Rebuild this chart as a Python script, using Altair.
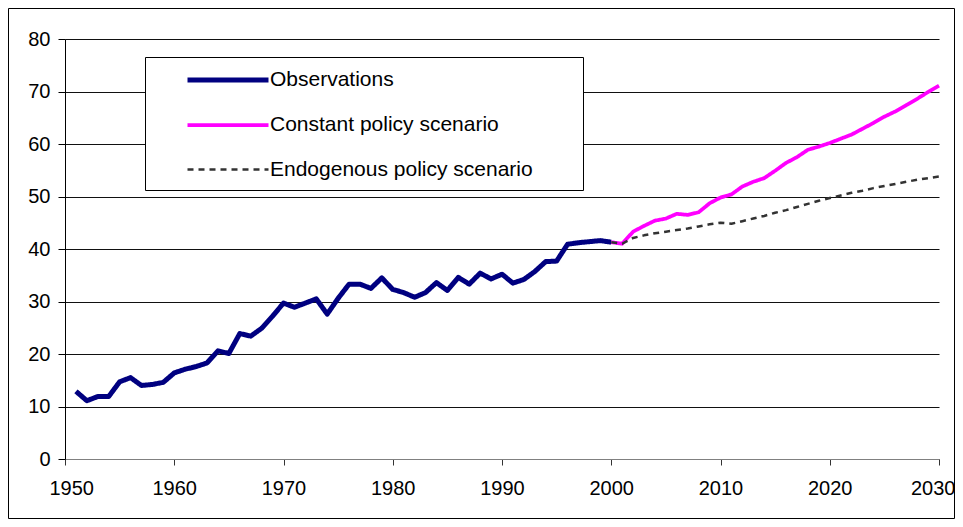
import altair as alt
import pandas as pd

obs_years = list(range(1951, 2001))
obs_values = [12.9, 11.1, 11.9, 11.9, 14.7, 15.5, 14.0, 14.2, 14.6, 16.4,
              17.1, 17.6, 18.3, 20.6, 20.1, 23.9, 23.4, 24.9, 27.2, 29.7,
              28.9, 29.7, 30.5, 27.6, 30.6, 33.3, 33.3, 32.5, 34.5, 32.3,
              31.7, 30.8, 31.7, 33.6, 32.1, 34.6, 33.3, 35.4, 34.3, 35.2,
              33.5, 34.2, 35.7, 37.6, 37.7, 40.9, 41.2, 41.4, 41.6, 41.3]

scen_years = list(range(2000, 2031))
const_values = [41.3, 41.0, 43.3, 44.4, 45.4, 45.8, 46.7, 46.5, 47.0, 48.7,
                49.8, 50.4, 51.9, 52.8, 53.5, 54.9, 56.4, 57.5, 58.9, 59.5,
                60.2, 61.0, 61.8, 62.9, 64.0, 65.2, 66.2, 67.4, 68.6, 69.9, 71.1]
endo_values = [41.3, 41.0, 42.1, 42.6, 43.0, 43.3, 43.6, 43.9, 44.3, 44.7,
               45.0, 44.8, 45.3, 45.8, 46.3, 46.9, 47.4, 48.0, 48.6, 49.2,
               49.7, 50.2, 50.7, 51.1, 51.6, 52.0, 52.4, 52.8, 53.2, 53.5, 53.8]

series_names = ["Observations", "Constant policy scenario", "Endogenous policy scenario"]
x_ticks = [1950, 1960, 1970, 1980, 1990, 2000, 2010, 2020, 2030]
y_ticks = [0, 10, 20, 30, 40, 50, 60, 70, 80]

rows = []
for yr, v in zip(obs_years, obs_values):
    rows.append({"year": yr, "value": v, "series": series_names[0]})
for yr, v in zip(scen_years, const_values):
    rows.append({"year": yr, "value": v, "series": series_names[1]})
for yr, v in zip(scen_years, endo_values):
    rows.append({"year": yr, "value": v, "series": series_names[2]})
df = pd.DataFrame(rows)

W, H = 874, 420
PADL, PADT, PADR, PADB = 57, 31, 16, 60
FONT = "Liberation Sans"

one = pd.DataFrame({"k": [0]})

frame = alt.Chart(one).mark_rect(fillOpacity=0, stroke="black", strokeWidth=1).encode(
    x=alt.value(-PADL + 0.5), x2=alt.value(W + PADR - 0.5),
    y=alt.value(-PADT + 0.5), y2=alt.value(H + PADB - 0.5),
)

legend_box = alt.Chart(one).mark_rect(fill="white", stroke="black", strokeWidth=1).encode(
    x=alt.value(80.5), x2=alt.value(518.5),
    y=alt.value(18.5), y2=alt.value(151.5),
)

lines = alt.Chart(df).mark_line(strokeJoin="round", strokeCap="butt").encode(
    x=alt.X("year:Q",
            scale=alt.Scale(domain=[1950, 2030], nice=False, zero=False),
            axis=alt.Axis(values=x_ticks, format="d", title=None, grid=False,
                          labelFlush=True, labelFlushOffset=16, labelOverlap=False,
                          domainColor="#808080", tickColor="#333333", tickSize=6,
                          labelPadding=13, labelFontSize=20, labelFont=FONT,
                          labelColor="black")),
    y=alt.Y("value:Q",
            scale=alt.Scale(domain=[0, 80], nice=False),
            axis=alt.Axis(values=y_ticks, title=None, grid=True, gridColor="#111111",
                          gridWidth=1, domainColor="black", tickColor="black",
                          labelFlush=False, labelOverlap=False,
                          tickSize=7, labelPadding=8, labelFontSize=20, labelFont=FONT,
                          labelColor="black")),
    color=alt.Color("series:N",
                    scale=alt.Scale(domain=series_names,
                                    range=["#000080", "#FF00FF", "#333333"]),
                    legend=alt.Legend(title=None, orient="none", legendX=150, legendY=28,
                                      symbolType="M-4,0H4", symbolSize=410,
                                      labelFontSize=21, labelFont=FONT, labelColor="black",
                                      labelOffset=29, rowPadding=23, padding=0,
                                      labelLimit=400)),
    strokeDash=alt.StrokeDash("series:N",
                              scale=alt.Scale(domain=series_names,
                                              range=[[1, 0], [1, 0], [6, 5]]),
                              legend=None),
    strokeWidth=alt.StrokeWidth("series:N",
                                scale=alt.Scale(domain=series_names, range=[5, 2.5, 2.5]),
                                legend=None),
)

chart = alt.layer(frame, legend_box, lines).properties(
    width=W, height=H,
    autosize=alt.AutoSizeParams(type="none"),
    padding={"left": PADL, "top": PADT, "right": PADR, "bottom": PADB},
    background="white",
).configure_view(stroke=None)

chart.save("out.html", embed_options={"renderer": "svg", "actions": False})
